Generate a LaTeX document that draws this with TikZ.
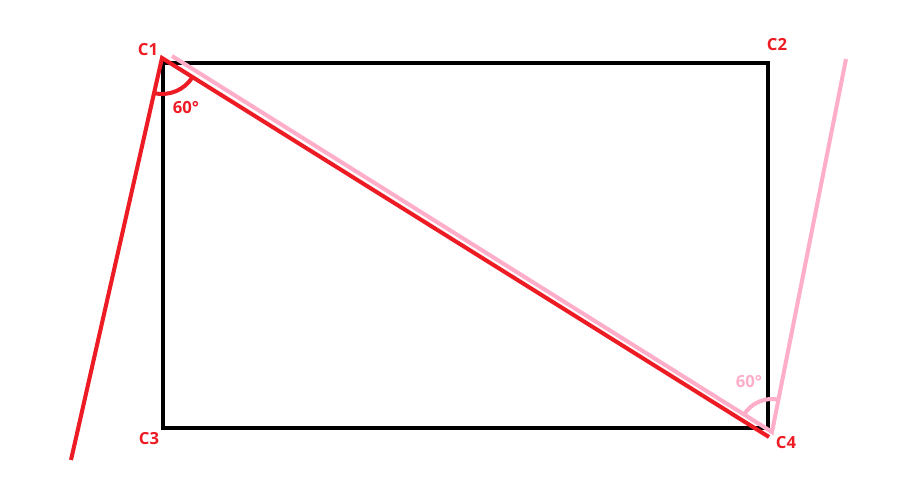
\documentclass[tikz,border=0pt]{standalone}
\usepackage{fontspec}
\setmainfont{Open Sans}
\definecolor{paintred}{HTML}{ED1C24}
\definecolor{paintpink}{HTML}{FFAEC9}
\tikzset{
  edge/.style={line width=2.3pt},
  lbl/.style={font=\bfseries\fontsize{9.5}{11}\selectfont, inner sep=0pt}
}
\begin{document}
\begin{tikzpicture}[x=0.02cm,y=-0.02cm]
		\useasboundingbox (0,0) rectangle (897,481);
		
		\coordinate (rTL) at (163,63);
		\coordinate (rBR) at (768,428);
		\draw[edge,black] (rTL) rectangle (rBR);
		
		\coordinate (C1pt) at (162,58);
		\coordinate (redLow) at (71,460);
		\coordinate (redEnd) at (769,437);
		\draw[edge,paintred] (redLow) -- (C1pt) -- (redEnd);
		\draw[edge,paintred] (C1pt) ++(32:36) arc[start angle=32, end angle=102.8, radius=36];
		
		\coordinate (pinkStart) at (172,56);
		\coordinate (C4pt) at (772,432);
		\coordinate (pinkTop) at (846,59);
		\draw[edge,paintpink] (pinkStart) -- (C4pt) -- (pinkTop);
		\draw[edge,paintpink] (C4pt) ++(212.1:33) arc[start angle=212.1, end angle=281.2, radius=33];
		
		\node[lbl,text=paintred] (lblC1) at (148,50) {C1};
		\node[lbl,text=paintred] (lblC2) at (777,45) {C2};
		\node[lbl,text=paintred] (lblC3) at (149,439) {C3};
		\node[lbl,text=paintred] (lblC4) at (786,443) {C4};
		\node[lbl,text=paintred] (angRed) at (186,108) {60°};
		\node[lbl,text=paintpink] (angPink) at (749,382) {60°};
		
\end{tikzpicture}
\end{document}
